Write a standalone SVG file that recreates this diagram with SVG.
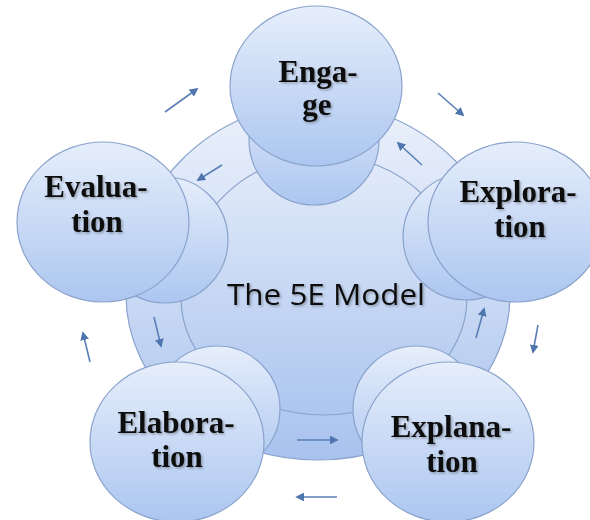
<svg xmlns="http://www.w3.org/2000/svg" width="590" height="520" viewBox="0 0 590 520">
  <defs>
    <linearGradient id="gNode" x1="0" y1="0" x2="0" y2="1">
      <stop offset="0" stop-color="#e6eefb"/>
      <stop offset="1" stop-color="#acc6f0"/>
    </linearGradient>
    <linearGradient id="gRing" x1="0" y1="0" x2="0" y2="1">
      <stop offset="0" stop-color="#ebf1fb"/>
      <stop offset="0.55" stop-color="#c9d9f4"/>
      <stop offset="1" stop-color="#a8c2ee"/>
    </linearGradient>
    <linearGradient id="gCore" x1="0" y1="0" x2="0" y2="1">
      <stop offset="0" stop-color="#e3ebf9"/>
      <stop offset="1" stop-color="#adc6ef"/>
    </linearGradient>
    <filter id="shadow" x="-20%" y="-30%" width="140%" height="160%">
      <feDropShadow dx="1.5" dy="1.5" stdDeviation="1.2" flood-color="#000" flood-opacity="0.3"/>
    </filter>
    <marker id="head" viewBox="0 0 10 10" refX="8" refY="5" markerWidth="5.5" markerHeight="5.5" orient="auto" markerUnits="strokeWidth">
      <path d="M0,0 L10,5 L0,10 Z" fill="#4f75ae"/>
    </marker>
  </defs>
  <style>
    .shape { stroke: #8aa3cc; stroke-width: 1.2; }
    .node { fill: url(#gNode); }
    .lbl { font-family: "Liberation Serif", "Times New Roman", serif; font-weight: bold; font-size: 31px; fill: #111; text-anchor: middle; filter: url(#shadow); }
    .title { font-family: "Open Sans", "Liberation Sans", sans-serif; font-size: 30px; fill: #111; text-anchor: middle; filter: url(#shadow); }
    .arrow { stroke: #5a7fb6; stroke-width: 1.6; fill: none; marker-end: url(#head); }
  </style>

  <!-- outer ring and central disc -->
  <g id="ring">
    <path class="shape" fill="url(#gRing)" d="M126,295 A192,192 0 0 1 510,295 A192,165 0 0 1 126,295 Z"/>
  </g>
  <g id="core">
    <path class="shape" fill="url(#gCore)" d="M181,298 A143,143 0 0 1 467,298 A143,117 0 0 1 181,298 Z"/>
    <text class="title" x="326" y="305" textLength="198" lengthAdjust="spacingAndGlyphs">The 5E Model</text>
  </g>

  <!-- connectors -->
  <g id="connectors">
    <!-- outer cycle (clockwise) -->
    <line class="arrow" x1="165" y1="112" x2="197" y2="89"/>
    <line class="arrow" x1="438" y1="93" x2="463" y2="115"/>
    <line class="arrow" x1="538" y1="325" x2="533" y2="352"/>
    <line class="arrow" x1="337" y1="497" x2="297" y2="497"/>
    <line class="arrow" x1="90" y1="362" x2="83" y2="333"/>
    <!-- inner cycle (counter-clockwise) -->
    <line class="arrow" x1="222" y1="165" x2="198" y2="180"/>
    <line class="arrow" x1="422" y1="165" x2="398" y2="143"/>
    <line class="arrow" x1="476" y1="338" x2="484" y2="309"/>
    <line class="arrow" x1="297" y1="440" x2="337" y2="440"/>
    <line class="arrow" x1="154" y1="317" x2="161" y2="346"/>
  </g>

  <g id="engage">
    <circle class="shape node" cx="314" cy="140" r="65"/>
    <ellipse class="shape node" cx="316" cy="86" rx="86" ry="80"/>
    <text class="lbl" x="318" y="82">Enga-</text>
    <text class="lbl" x="317" y="115">ge</text>
  </g>

  <g id="exploration">
    <circle class="shape node" cx="466" cy="237" r="63"/>
    <ellipse class="shape node" cx="516" cy="222" rx="88" ry="80"/>
    <text class="lbl" x="518" y="202">Explora-</text>
    <text class="lbl" x="520" y="237">tion</text>
  </g>

  <g id="explanation">
    <circle class="shape node" cx="416" cy="409" r="63"/>
    <ellipse class="shape node" cx="448" cy="442" rx="86" ry="80"/>
    <text class="lbl" x="451" y="437">Explana-</text>
    <text class="lbl" x="452" y="472">tion</text>
  </g>

  <g id="elaboration">
    <circle class="shape node" cx="217" cy="409" r="63"/>
    <ellipse class="shape node" cx="177" cy="442" rx="87" ry="80"/>
    <text class="lbl" x="176" y="433">Elabora-</text>
    <text class="lbl" x="177" y="467">tion</text>
  </g>

  <g id="evaluation">
    <circle class="shape node" cx="165" cy="240" r="63"/>
    <ellipse class="shape node" cx="103" cy="222" rx="86" ry="80"/>
    <text class="lbl" x="96" y="197">Evalua-</text>
    <text class="lbl" x="97" y="232">tion</text>
  </g>
</svg>
